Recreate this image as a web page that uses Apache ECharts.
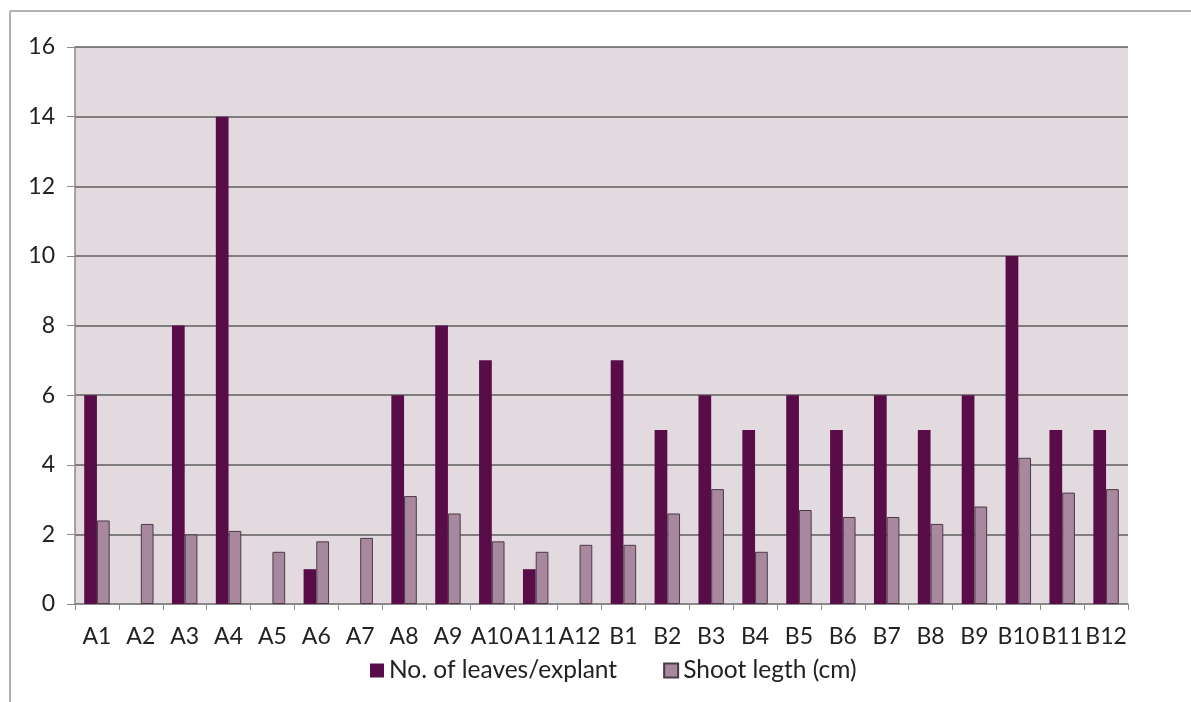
<!DOCTYPE html>
<html>
<head>
<meta charset="utf-8">
<script src="https://cdn.jsdelivr.net/npm/echarts@6/dist/echarts.min.js"></script>
<style>
  html, body { margin: 0; padding: 0; background: #fff; }
  #chart { width: 1191px; height: 702px; }
</style>
</head>
<body>
<div id="chart"></div>
<script>
// categories along the x axis
const categories = ['A1', 'A2', 'A3', 'A4', 'A5', 'A6', 'A7', 'A8', 'A9', 'A10', 'A11', 'A12',
  'B1', 'B2', 'B3', 'B4', 'B5', 'B6', 'B7', 'B8', 'B9', 'B10', 'B11', 'B12'];
// No. of leaves/explant
const leaves = [6, 0, 8, 14, 0, 1, 0, 6, 8, 7, 1, 0, 7, 5, 6, 5, 6, 5, 6, 5, 6, 10, 5, 5];
// Shoot legth (cm)
const shoot = [2.4, 2.3, 2.0, 2.1, 1.5, 1.8, 1.9, 3.1, 2.6, 1.8, 1.5, 1.7,
  1.7, 2.6, 3.3, 1.5, 2.7, 2.5, 2.5, 2.3, 2.8, 4.2, 3.2, 3.3];
const seriesNames = ['No. of leaves/explant', 'Shoot legth (cm)'];

const chart = echarts.init(document.getElementById('chart'));
const font = 'Lato, "Open Sans", sans-serif';

chart.setOption({
  animation: false,
  textStyle: { fontFamily: font },
  graphic: [
    // outer frame (top and left edge visible)
    { type: 'line', shape: { x1: 10, y1: 11, x2: 1191, y2: 11 }, style: { stroke: '#9a9a9a', lineWidth: 1.5 } },
    { type: 'line', shape: { x1: 10, y1: 11, x2: 10, y2: 702 }, style: { stroke: '#9a9a9a', lineWidth: 1.5 } }
  ],
  grid: {
    left: 75,
    right: 63,
    top: 47,
    bottom: 98,
    show: true,
    backgroundColor: '#e3dadf',
    borderWidth: 0
  },
  legend: {
    top: 653,
    left: 365,
    icon: 'rect',
    itemWidth: 14,
    itemHeight: 14,
    itemGap: 46,
    textStyle: { fontSize: 24.5, color: '#222', fontFamily: font },
    data: seriesNames
  },
  xAxis: {
    type: 'category',
    data: categories,
    axisLine: { lineStyle: { color: '#8a8a8a', width: 1.5 } },
    axisTick: { show: true, length: 6, lineStyle: { color: '#8a8a8a' } },
    axisLabel: { fontSize: 23, color: '#222', margin: 21, interval: 0 }
  },
  yAxis: {
    type: 'value',
    min: 0,
    max: 16,
    interval: 2,
    axisLine: { show: true, lineStyle: { color: '#8a8a8a', width: 1.5 } },
    axisTick: { show: true, length: 8, lineStyle: { color: '#8a8a8a' } },
    axisLabel: { fontSize: 23, color: '#222', margin: 20 },
    splitLine: { lineStyle: { color: '#5e5e5e', width: 1.5 } }
  },
  series: [
    {
      name: seriesNames[0],
      type: 'bar',
      data: leaves,
      barGap: '0%',
      barCategoryGap: '42%',
      itemStyle: { color: '#580d49', borderWidth: 0 }
    },
    {
      name: seriesNames[1],
      type: 'bar',
      data: shoot,
      itemStyle: { color: '#a8889f', borderColor: '#4a3a45', borderWidth: 1 }
    }
  ]
});
</script>
</body>
</html>
